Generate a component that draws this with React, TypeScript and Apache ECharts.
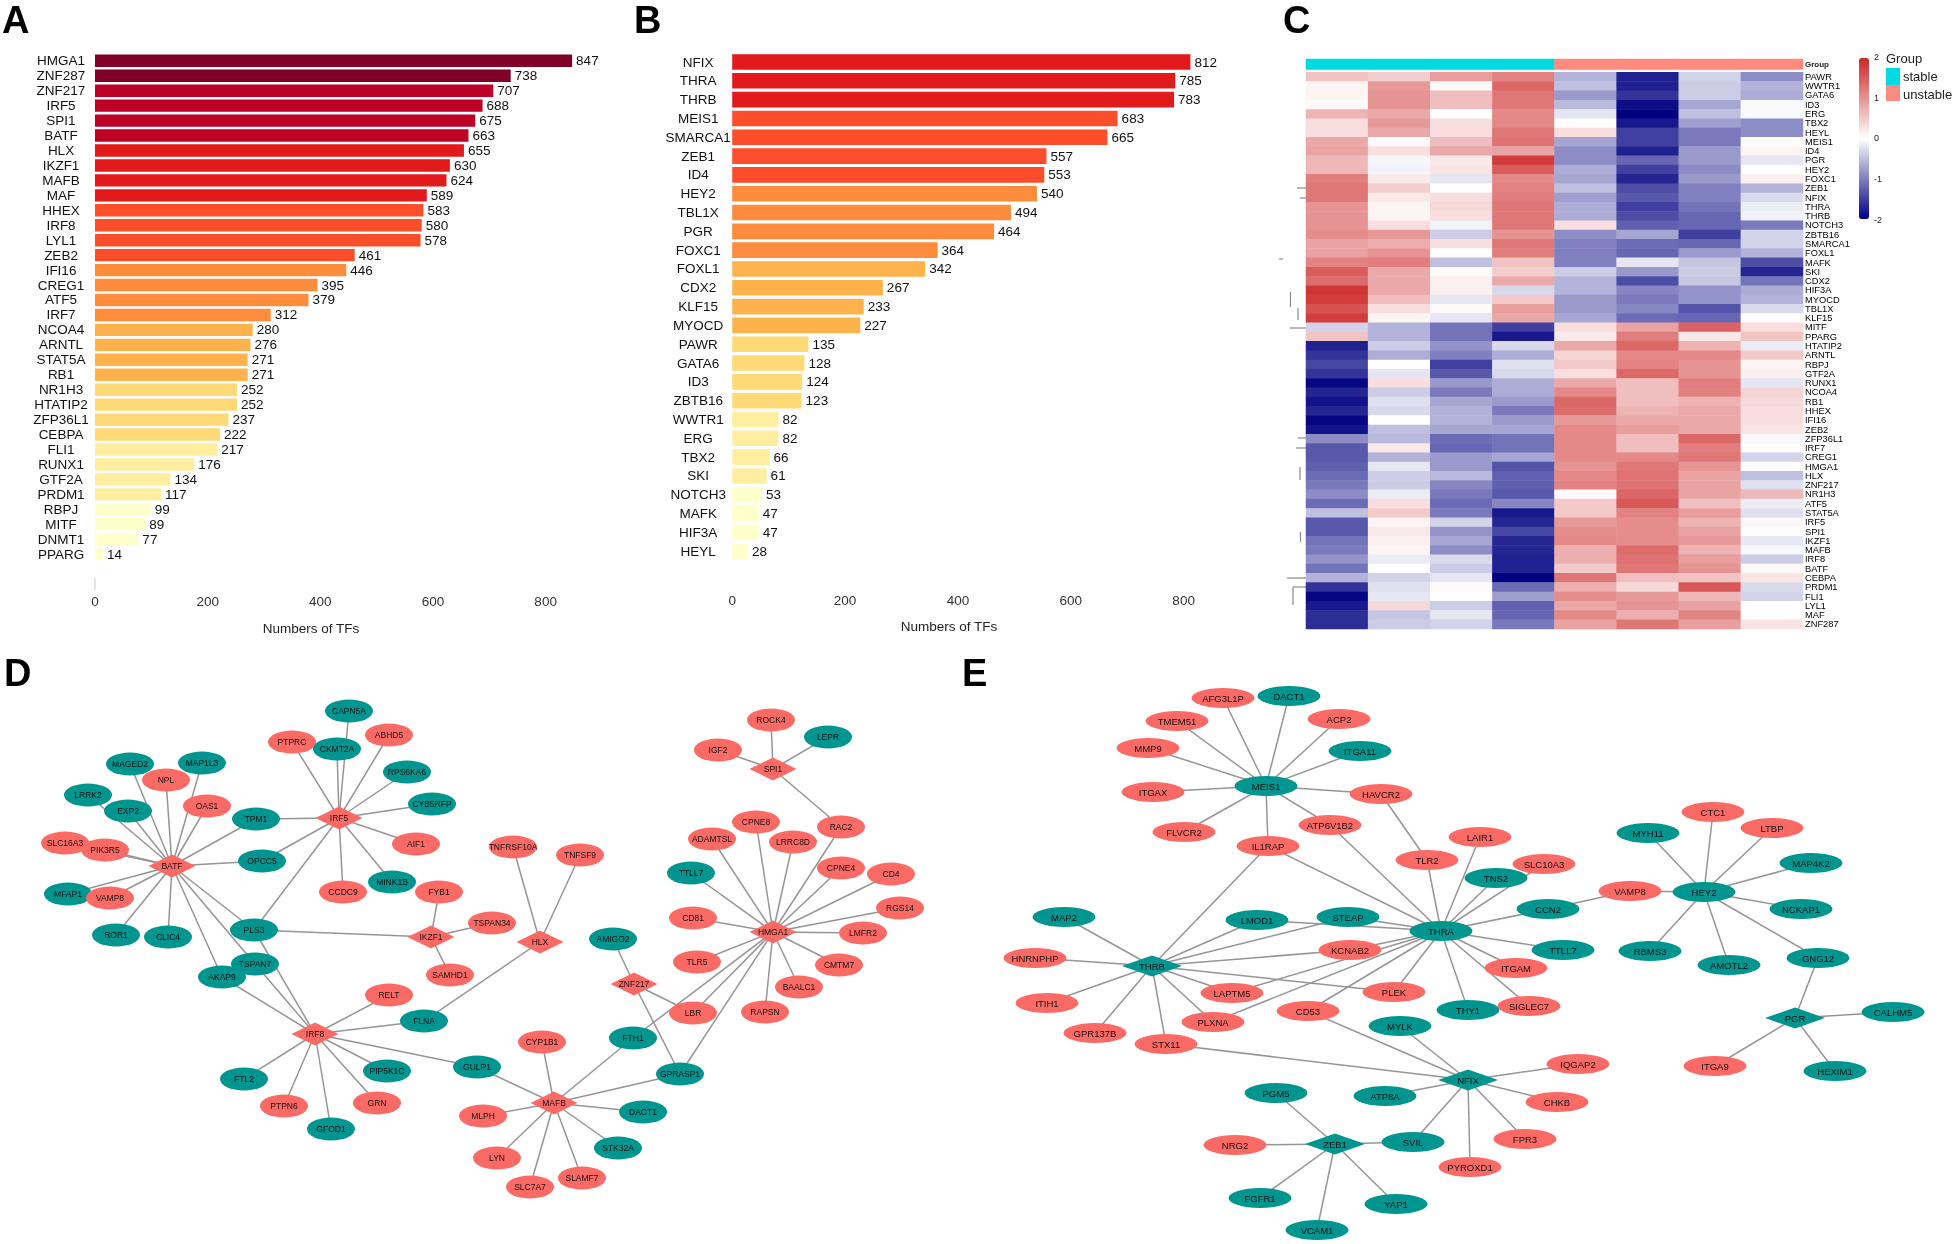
import React, { useEffect, useRef } from "react";
import * as echarts from "echarts";

const FONT = '"Liberation Sans", Arial, sans-serif';

// ---------- Panel A / B ----------
const palette = ["#800026", "#BD0026", "#E31A1C", "#FC4E2A", "#FD8D3C", "#FEB24C", "#FED976", "#FFEDA0", "#FFFFCC"];
const tfA = ["HMGA1","ZNF287","ZNF217","IRF5","SPI1","BATF","HLX","IKZF1","MAFB","MAF","HHEX","IRF8","LYL1","ZEB2","IFI16","CREG1","ATF5","IRF7","NCOA4","ARNTL","STAT5A","RB1","NR1H3","HTATIP2","ZFP36L1","CEBPA","FLI1","RUNX1","GTF2A","PRDM1","RBPJ","MITF","DNMT1","PPARG"];
const countA = [847,738,707,688,675,663,655,630,624,589,583,580,578,461,446,395,379,312,280,276,271,271,252,252,237,222,217,176,134,117,99,89,77,14];
const bandSizesA = [2,4,4,4,4,4,4,4,4];
const tfB = ["NFIX","THRA","THRB","MEIS1","SMARCA1","ZEB1","ID4","HEY2","TBL1X","PGR","FOXC1","FOXL1","CDX2","KLF15","MYOCD","PAWR","GATA6","ID3","ZBTB16","WWTR1","ERG","TBX2","SKI","NOTCH3","MAFK","HIF3A","HEYL"];
const countB = [812,785,783,683,665,557,553,540,494,464,364,342,267,233,227,135,128,124,123,82,82,66,61,53,47,47,28];
const bandSizesB = [0,0,3,4,4,4,4,4,4];
const countTicks = [0, 200, 400, 600, 800];

// ---------- Panel C ----------
const heatCols = ["s1","s2","s3","s4","u1","u2","u3","u4"];
const heatGroups = [0,0,0,0,1,1,1,1];
const heatRows = ["PAWR","WWTR1","GATA6","ID3","ERG","TBX2","HEYL","MEIS1","ID4","PGR","HEY2","FOXC1","ZEB1","NFIX","THRA","THRB","NOTCH3","ZBTB16","SMARCA1","FOXL1","MAFK","SKI","CDX2","HIF3A","MYOCD","TBL1X","KLF15","MITF","PPARG","HTATIP2","ARNTL","RBPJ","GTF2A","RUNX1","NCOA4","RB1","HHEX","IFI16","ZEB2","ZFP36L1","IRF7","CREG1","HMGA1","HLX","ZNF217","NR1H3","ATF5","STAT5A","IRF5","SPI1","IKZF1","MAFB","IRF8","BATF","CEBPA","PRDM1","FLI1","LYL1","MAF","ZNF287"];
const heatValues = [
[0.55,0.45,0.9,1.15,-0.6,-1.75,-0.35,-0.9],
[0.1,0.95,0.05,1.4,-0.5,-1.75,-0.4,-0.6],
[0.1,1.0,0.6,1.25,-0.8,-1.6,-0.4,-0.65],
[0.05,1.0,0.6,1.25,-0.55,-1.9,-0.7,-0.05],
[0.7,0.8,0.0,1.1,-0.2,-2.0,-0.5,-0.05],
[0.3,0.95,0.3,1.1,0.03,-1.8,-0.75,-0.9],
[0.3,0.8,0.3,1.25,0.3,-1.5,-1.05,-0.9],
[0.8,0.05,0.6,1.3,-0.7,-1.5,-1.05,0.03],
[0.85,0.3,0.8,0.85,-0.9,-1.75,-0.8,0.1],
[0.65,-0.08,0.2,1.8,-0.9,-1.2,-0.8,-0.2],
[0.65,-0.1,0.25,1.5,-0.65,-1.5,-0.9,0.03],
[1.2,0.2,-0.2,1.1,-0.7,-1.7,-0.8,0.15],
[1.25,0.45,0.0,1.15,-0.5,-1.4,-1.0,-0.6],
[1.25,0.2,0.3,1.2,-0.75,-1.3,-1.0,-0.3],
[1.0,0.1,0.35,1.25,-0.65,-1.5,-1.1,-0.15],
[1.0,0.1,0.3,1.25,-0.65,-1.4,-1.2,-0.1],
[1.0,0.3,-0.1,1.25,0.3,-1.25,-1.2,-1.05],
[1.05,0.95,-0.4,1.0,-0.9,-0.7,-1.5,-0.35],
[0.85,0.75,0.3,1.25,-1.0,-1.15,-1.2,-0.35],
[0.85,1.0,0.03,1.2,-1.0,-1.2,-0.8,-0.6],
[1.15,1.2,-0.5,0.55,-1.0,-0.2,-0.45,-1.4],
[1.5,0.8,0.05,0.45,-0.4,-0.8,-0.4,-1.7],
[1.35,0.8,0.15,0.8,-0.6,-1.4,-0.45,-1.1],
[1.85,0.8,0.15,-0.3,-0.6,-0.95,-0.85,-0.65],
[1.8,0.6,-0.2,0.5,-0.8,-1.05,-0.85,-0.6],
[1.6,0.3,0.05,0.9,-0.8,-0.95,-1.35,-0.3],
[1.8,0.1,-0.2,0.8,-0.7,-1.15,-1.2,0.03],
[-0.35,-0.6,-1.1,-1.5,0.3,0.85,1.45,0.3],
[0.55,-0.6,-1.1,-1.8,0.2,1.2,0.2,0.55],
[-1.75,-0.4,-0.85,-0.3,0.8,1.4,0.7,-0.15],
[-1.6,-0.65,-1.0,-0.65,0.4,1.1,1.1,0.5],
[-1.45,0.0,-1.5,-0.25,0.5,1.15,1.0,0.1],
[-1.6,-0.2,-1.3,-0.3,0.3,1.4,1.0,0.15],
[-1.95,0.3,-0.8,-0.65,0.8,0.6,1.2,-0.2],
[-1.7,-0.4,-1.05,-0.65,1.1,0.6,1.15,0.4],
[-1.85,-0.25,-0.7,-0.8,1.4,0.6,0.7,0.35],
[-1.7,-0.3,-0.6,-1.05,1.35,0.7,0.8,0.3],
[-1.95,0.0,-0.6,-0.8,0.95,0.8,0.8,0.3],
[-1.85,-0.5,-0.7,-0.7,1.1,0.9,0.8,0.25],
[-0.9,-0.55,-1.15,-1.1,1.1,0.6,1.4,-0.05],
[-1.3,0.2,-1.2,-1.1,1.1,0.6,1.2,0.03],
[-1.3,-0.6,-0.8,-0.7,1.1,1.1,1.25,-0.35],
[-1.25,-0.2,-0.8,-1.35,1.0,1.25,1.0,0.02],
[-1.15,-0.4,-0.55,-1.25,1.1,1.3,0.85,-0.5],
[-1.05,-0.4,-0.95,-1.25,1.15,1.3,0.85,-0.25],
[-0.9,-0.15,-1.05,-1.3,0.05,1.4,0.85,0.65],
[-1.15,0.3,-1.15,-0.95,0.5,1.55,0.6,-0.15],
[-0.5,0.5,-1.05,-1.8,0.5,1.15,0.9,-0.25],
[-1.3,0.1,-0.35,-1.7,0.95,1.05,0.7,0.07],
[-1.3,0.2,-0.85,-1.45,1.05,1.05,0.85,0.03],
[-1.1,0.15,-0.7,-1.7,1.1,1.05,0.95,-0.18],
[-1.05,0.1,-0.9,-1.7,0.75,1.35,0.7,-0.07],
[-0.85,-0.15,-0.3,-1.75,0.75,1.3,0.9,-0.4],
[-1.1,0.0,-0.4,-1.75,0.5,1.25,1.0,0.05],
[-0.6,-0.35,-0.2,-2.0,1.25,0.6,0.55,0.25],
[-1.6,-0.25,0.05,-1.15,0.75,0.35,1.55,-0.3],
[-1.95,-0.2,0.02,-0.75,1.05,0.95,0.65,-0.35],
[-1.8,0.35,-0.4,-1.25,0.8,1.0,0.85,0.0],
[-1.65,-0.45,-0.2,-1.2,1.1,0.75,1.15,0.0],
[-1.65,-0.4,-0.35,-1.05,0.85,1.25,0.9,0.25],
];
const scaleTicks = [2, 1, 0, -1, -2];
const groupLegend = ["stable", "unstable"];

// ---------- Panel D / E : nodes are [name, x, y, kind] in page-scale axis units ----------
// kind: r = salmon ellipse, t = teal ellipse, R = salmon diamond, T = teal diamond
const nodesD: [string, number, number, string][] = [
["CAPN5A",349,711,"t"],["PTPRC",292,742,"r"],["CKMT2A",337,749,"t"],["ABHD5",389,735,"r"],["RPS6KA6",407,772,"t"],["CYB5RFP",432,804,"t"],["AIF1",416,844,"r"],["MINK1B",392,882,"t"],["CCDC9",343,892,"r"],["TPM1",256,819,"t"],["OPCC5",262,861,"t"],["PLS3",254,930,"t"],["AKAP9",222,977,"t"],["TSPAN7",255,964,"t"],
["MAGED2",130,764,"t"],["MAP1L3",202,763,"t"],["NPL",166,780,"r"],["OAS1",207,806,"r"],["LRRK2",88,795,"t"],["EXP2",128,811,"t"],["SLC16A3",65,843,"r"],["PIK3R5",105,850,"r"],["MFAP1",68,894,"t"],["VAMP8",110,898,"r"],["ROR1",116,935,"t"],["CLIC4",168,937,"t"],
["RELT",389,995,"r"],["FLNA",424,1021,"t"],["GULP1",477,1067,"t"],["PIP5K1C",387,1071,"t"],["GRN",377,1103,"r"],["GFOD1",331,1129,"t"],["PTPN6",284,1106,"r"],["FTL2",244,1079,"t"],
["FYB1",439,892,"r"],["TSPAN34",492,923,"r"],["SAMHD1",450,975,"r"],["TNFRSF10A",513,847,"r"],["TNFSF9",580,855,"r"],
["AMIGO2",613,939,"t"],["LBR",693,1013,"r"],["FTH1",633,1038,"t"],["GPRASP1",680,1074,"t"],["CYP1B1",542,1042,"r"],["MLPH",483,1116,"r"],["DACT1",643,1112,"t"],["STK32A",618,1148,"t"],["SLAMF7",582,1178,"r"],["SLC7A7",530,1187,"r"],["LYN",497,1158,"r"],
["ROCK4",771,720,"r"],["LEPR",828,737,"t"],["IGF2",718,750,"r"],["RAC2",841,827,"r"],["ADAMTSL",712,839,"r"],["CPNE8",756,822,"r"],["LRRC8D",793,842,"r"],["CPNE4",841,868,"r"],["CD4",891,874,"r"],["RGS14",900,908,"r"],["LMFR2",863,933,"r"],["CMTM7",839,965,"r"],["BAALC1",799,987,"r"],["RAPSN",765,1012,"r"],["TLR5",697,962,"r"],["CD81",693,918,"r"],["TTLL7",691,873,"t"],
["BATF",172,866,"R"],["IRF5",339,818,"R"],["IRF8",315,1034,"R"],["IKZF1",431,937,"R"],["HLX",540,942,"R"],["ZNF217",634,984,"R"],["MAFB",554,1103,"R"],["HMGA1",773,932,"R"],["SPI1",773,769,"R"],
];
const starsD: [string, string[]][] = [
["BATF",["MAGED2","MAP1L3","NPL","OAS1","LRRK2","EXP2","SLC16A3","PIK3R5","TPM1","OPCC5","PLS3","TSPAN7","AKAP9","MFAP1","VAMP8","ROR1","CLIC4"]],
["IRF5",["CAPN5A","PTPRC","CKMT2A","ABHD5","RPS6KA6","CYB5RFP","AIF1","MINK1B","CCDC9","TPM1","OPCC5","PLS3"]],
["IRF8",["PLS3","TSPAN7","AKAP9","RELT","FLNA","GULP1","PIP5K1C","GRN","GFOD1","PTPN6","FTL2"]],
["IKZF1",["FYB1","TSPAN34","SAMHD1","PLS3"]],
["HLX",["TNFRSF10A","TNFSF9","FLNA"]],
["MAFB",["GULP1","CYP1B1","MLPH","DACT1","STK32A","SLAMF7","SLC7A7","LYN","FTH1","GPRASP1"]],
["ZNF217",["AMIGO2","LBR","GPRASP1"]],
["HMGA1",["LBR","FTH1","GPRASP1","TTLL7","ADAMTSL","CPNE8","LRRC8D","RAC2","CPNE4","CD4","RGS14","LMFR2","CMTM7","BAALC1","RAPSN","TLR5","CD81"]],
["SPI1",["ROCK4","LEPR","IGF2","RAC2"]],
];
const nodesE: [string, number, number, string][] = [
["AFG3L1P",1223,698,"r"],["DACT1",1289,696,"t"],["TMEM51",1177,721,"r"],["ACP2",1339,719,"r"],["MMP9",1148,748,"r"],["ITGA11",1360,751,"t"],["ITGAX",1153,792,"r"],["HAVCR2",1381,794,"r"],["FLVCR2",1184,832,"r"],["ATP6V1B2",1330,825,"r"],["IL1RAP",1268,846,"r"],
["MAP2",1064,917,"t"],["HNRNPHP",1035,958,"r"],["ITIH1",1047,1003,"r"],["GPR137B",1095,1033,"r"],["STX11",1166,1044,"r"],["PLXNA",1213,1022,"r"],["LAPTM5",1232,993,"r"],["LMOD1",1257,920,"t"],["STEAP",1348,917,"t"],["KCNAB2",1350,950,"r"],["PLEK",1394,992,"r"],["CD53",1308,1011,"r"],["MYLK",1400,1026,"t"],
["TLR2",1427,860,"r"],["LAIR1",1480,837,"r"],["SLC10A3",1544,864,"r"],["TNS2",1496,878,"t"],["CCN2",1548,909,"t"],["TTLL7",1563,950,"t"],["ITGAM",1516,968,"r"],["THY1",1468,1010,"t"],["SIGLEC7",1529,1006,"r"],
["VAMP8",1630,891,"r"],["MYH11",1648,833,"t"],["CTC1",1713,812,"r"],["LTBP",1772,828,"r"],["MAP4K2",1811,863,"t"],["NCKAP1",1801,909,"t"],["RBMS3",1650,951,"t"],["AMOTL2",1729,965,"t"],["GNG12",1818,958,"t"],
["CALHM5",1893,1012,"t"],["HEXIM1",1835,1071,"t"],["ITGA9",1715,1066,"r"],
["IQGAP2",1578,1064,"r"],["CHKB",1557,1102,"r"],["FPR3",1525,1139,"r"],["PYROXD1",1470,1167,"r"],["ATP8A",1385,1096,"t"],["SVIL",1413,1142,"t"],
["PGM5",1276,1093,"t"],["NRG2",1235,1145,"r"],["FGFR1",1260,1198,"t"],["YAP1",1396,1204,"t"],["VCAM1",1317,1230,"t"],
["MEIS1",1266,786,"t"],["THRA",1441,931,"t"],["HEY2",1704,892,"t"],["THRB",1152,966,"T"],["NFIX",1468,1080,"T"],["ZEB1",1335,1144,"T"],["PGR",1795,1018,"T"],
];
const starsE: [string, string[]][] = [
["MEIS1",["AFG3L1P","DACT1","TMEM51","ACP2","MMP9","ITGA11","ITGAX","HAVCR2","FLVCR2","ATP6V1B2","IL1RAP"]],
["THRB",["IL1RAP","MAP2","HNRNPHP","ITIH1","GPR137B","STX11","PLXNA","LAPTM5","LMOD1","STEAP","KCNAB2","PLEK"]],
["THRA",["IL1RAP","ATP6V1B2","TLR2","LAIR1","SLC10A3","TNS2","CCN2","TTLL7","ITGAM","SIGLEC7","THY1","PLEK","CD53","PLXNA","LAPTM5","KCNAB2","STEAP","LMOD1"]],
["HAVCR2",["TLR2"]],
["VAMP8",["CCN2","HEY2"]],
["HEY2",["MYH11","CTC1","LTBP","MAP4K2","NCKAP1","RBMS3","AMOTL2","GNG12"]],
["PGR",["GNG12","CALHM5","HEXIM1","ITGA9"]],
["NFIX",["CD53","MYLK","STX11","ATP8A","SVIL","PYROXD1","IQGAP2","CHKB","FPR3"]],
["ZEB1",["PGM5","NRG2","SVIL","FGFR1","YAP1","VCAM1"]],
];

const SALMON = "#FC6A66";
const TEAL = "#00958F";
const STABLE = "#00DAE0";
const UNSTABLE = "#FF8A80";
const ELLIPSE = "path://M-1,0A1,1 0 1,1 1,0A1,1 0 1,1 -1,0Z";

const expandBands = (sizes: number[]) => sizes.flatMap((n, i) => Array(n).fill(palette[i]));

const barSeries = (values: number[], colors: string[], xi: number, width: number) => ({
  type: "bar",
  xAxisIndex: xi,
  yAxisIndex: xi,
  barWidth: width,
  data: values.map((v, i) => ({ value: v, itemStyle: { color: colors[i] } })),
  label: { show: true, position: "right", distance: 4, fontFamily: FONT, fontSize: 13.5, color: "#111" },
});

const graphSeries = (nodes: [string, number, number, string][], stars: [string, string[]][], xi: number, ew: number, eh: number, dw: number, dh: number, fs: number) => ({
  type: "graph",
  layout: "none",
  coordinateSystem: "cartesian2d",
  xAxisIndex: xi,
  yAxisIndex: xi,
  roam: false,
  data: nodes.map(([name, x, y, k]) => ({
    name,
    value: [x, y],
    symbol: k === k.toUpperCase() ? "diamond" : ELLIPSE,
    symbolSize: k === k.toUpperCase() ? [dw, dh] : [ew, eh],
    itemStyle: { color: k.toLowerCase() === "r" ? SALMON : TEAL },
  })),
  links: stars.flatMap(([hub, list]) => list.map((t) => ({ source: hub, target: t }))),
  lineStyle: { color: "#959595", width: 1.5, opacity: 1, curveness: 0 },
  label: { show: true, position: "inside", fontFamily: FONT, fontSize: fs, color: "#111" },
  emphasis: { disabled: true },
});

const panelLetter = (t: string, x: number, y: number) => ({
  type: "text", x, y,
  style: { text: t, fontFamily: FONT, fontWeight: "bold", fontSize: 38, fill: "#000", textVerticalAlign: "top" },
});
const txt = (t: string, x: number, y: number, size: number, align = "left", weight = "normal") => ({
  type: "text", x, y,
  style: { text: t, fontFamily: FONT, fontSize: size, fontWeight: weight, fill: "#222", textAlign: align, textVerticalAlign: "middle" },
});
const seg = (x1: number, y1: number, x2: number, y2: number, color: string, w = 1) => ({
  type: "line", shape: { x1, y1, x2, y2 }, style: { stroke: color, lineWidth: w },
});

const HEAT = { left: 1306, top: 72.3, width: 497, height: 556.7 };
const artefactRows = [184, 193.3, 314, 322.7, 434, 443.3, 565, 573.3];
const dendroBits = [
  [1297,188,1306,188],[1300,198,1306,198],[1279,259,1283,259],[1290.5,292,1290.5,307],[1298,308,1298,320],[1290,328,1306,328],
  [1287,578,1306,578],[1298,438,1306,438],[1296,448,1306,448],[1300,467,1300,480],[1300.5,532,1300.5,542],[1293,587,1306,587],[1293,587,1293,605],
];

export default function App() {
  const ref = useRef<HTMLDivElement>(null);
  useEffect(() => {
    const chart = echarts.init(ref.current!, undefined, { renderer: "svg" });
    const catAxis = (i: number, data: string[]) => ({
      type: "category", gridIndex: i, data, inverse: true,
      axisLine: { show: false }, axisTick: { show: false }, splitLine: { show: false },
      axisLabel: { interval: 0, align: "center", margin: 34, fontFamily: FONT, fontSize: 13.5, color: "#111" },
    });
    const valAxis = (i: number) => ({
      type: "value", gridIndex: i, min: 0, max: 1000, interval: 200,
      axisLine: { show: false }, axisTick: { show: false }, splitLine: { show: false },
      axisLabel: {
        margin: 33, fontFamily: FONT, fontSize: 13.5, color: "#333",
        formatter: (v: number) => (countTicks.includes(v) ? String(v) : ""),
      },
    });
    const hiddenX = (i: number) => ({ type: "value", gridIndex: i, min: 0, max: 1954, show: false });
    const hiddenY = (i: number) => ({ type: "value", gridIndex: i, min: 0, max: 1244, inverse: true, show: false });
    chart.setOption({
      animation: false,
      backgroundColor: "#fff",
      tooltip: { show: false },
      grid: [
        { left: 95, top: 53.3, width: 563.3, height: 508.3 },
        { left: 732.2, top: 52.6, width: 564.3, height: 508 },
        HEAT,
        { left: HEAT.left, top: 59, width: HEAT.width, height: 10.5 },
        { left: 0, top: 0, width: 1954, height: 1244 },
        { left: 0, top: 0, width: 1954, height: 1244 },
      ],
      xAxis: [
        valAxis(0),
        valAxis(1),
        { type: "category", gridIndex: 2, data: heatCols, show: false },
        { type: "category", gridIndex: 3, data: heatCols, show: false },
        hiddenX(4),
        hiddenX(5),
      ],
      yAxis: [
        catAxis(0, tfA),
        catAxis(1, tfB),
        {
          type: "category", gridIndex: 2, data: heatRows, inverse: true, position: "right",
          axisLine: { show: false }, axisTick: { show: false }, splitLine: { show: false },
          axisLabel: { interval: 0, margin: 2, fontFamily: FONT, fontSize: 9.3, color: "#000" },
        },
        {
          type: "category", gridIndex: 3, data: ["Group"], position: "right",
          axisLine: { show: false }, axisTick: { show: false },
          axisLabel: { margin: 2, fontFamily: FONT, fontSize: 8, fontWeight: "bold", color: "#222" },
        },
        hiddenY(4),
        hiddenY(5),
      ],
      visualMap: [
        {
          type: "continuous", seriesIndex: 2, min: -2, max: 2, left: 1859, top: 58, padding: 0,
          itemWidth: 10, itemHeight: 161, calculable: false, hoverLink: false, orient: "vertical",
          inRange: { color: ["#000080", "#FFFFFF", "#CD2626"] },
        },
        {
          type: "piecewise", seriesIndex: 3, show: false, dimension: 2,
          pieces: [{ value: 0, color: STABLE }, { value: 1, color: UNSTABLE }],
        },
      ],
      series: [
        barSeries(countA, expandBands(bandSizesA), 0, 12.4),
        barSeries(countB, expandBands(bandSizesB), 1, 15.6),
        {
          type: "heatmap", xAxisIndex: 2, yAxisIndex: 2, progressive: 0,
          data: heatValues.flatMap((row, y) => row.map((v, x) => [x, y, v])),
          emphasis: { disabled: true },
        },
        {
          type: "heatmap", xAxisIndex: 3, yAxisIndex: 3,
          data: heatGroups.map((g, x) => [x, 0, g]),
          emphasis: { disabled: true },
        },
        graphSeries(nodesD, starsD, 4, 48, 23, 47, 23, 8.5),
        graphSeries(nodesE, starsE, 5, 63, 20, 60, 21, 9.5),
      ],
      graphic: [
        panelLetter("A", 2, 1), panelLetter("B", 634, 1), panelLetter("C", 1283, 1),
        panelLetter("D", 4, 654), panelLetter("E", 962, 654),
        txt("Numbers of TFs", 311, 628, 13.5, "center"),
        txt("Numbers of TFs", 949, 626, 13.5, "center"),
        seg(95, 578, 95, 590, "#c8c8c8"),
        ...artefactRows.map((y) => seg(HEAT.left, y, HEAT.left + HEAT.width, y, "rgba(110,110,110,0.5)")),
        ...dendroBits.map(([a, b, c, d]) => seg(a, b, c, d, "#8a8a8a", 1.2)),
        ...scaleTicks.map((t, i) => txt(String(t), 1874, 57 + i * 40.7, 9)),
        txt("Group", 1886, 58, 13),
        { type: "rect", shape: { x: 1886, y: 68, width: 14, height: 17 }, style: { fill: STABLE } },
        { type: "rect", shape: { x: 1886, y: 85, width: 14, height: 16 }, style: { fill: UNSTABLE } },
        ...groupLegend.map((g, i) => txt(g, 1903, 76 + i * 18, 13)),
      ],
    });
    return () => chart.dispose();
  }, []);
  return (
    <div
      ref={ref}
      style={{ position: "absolute", left: 0, top: 0, width: 1954, height: 1244, filter: "blur(0.55px)" }}
    />
  );
}
